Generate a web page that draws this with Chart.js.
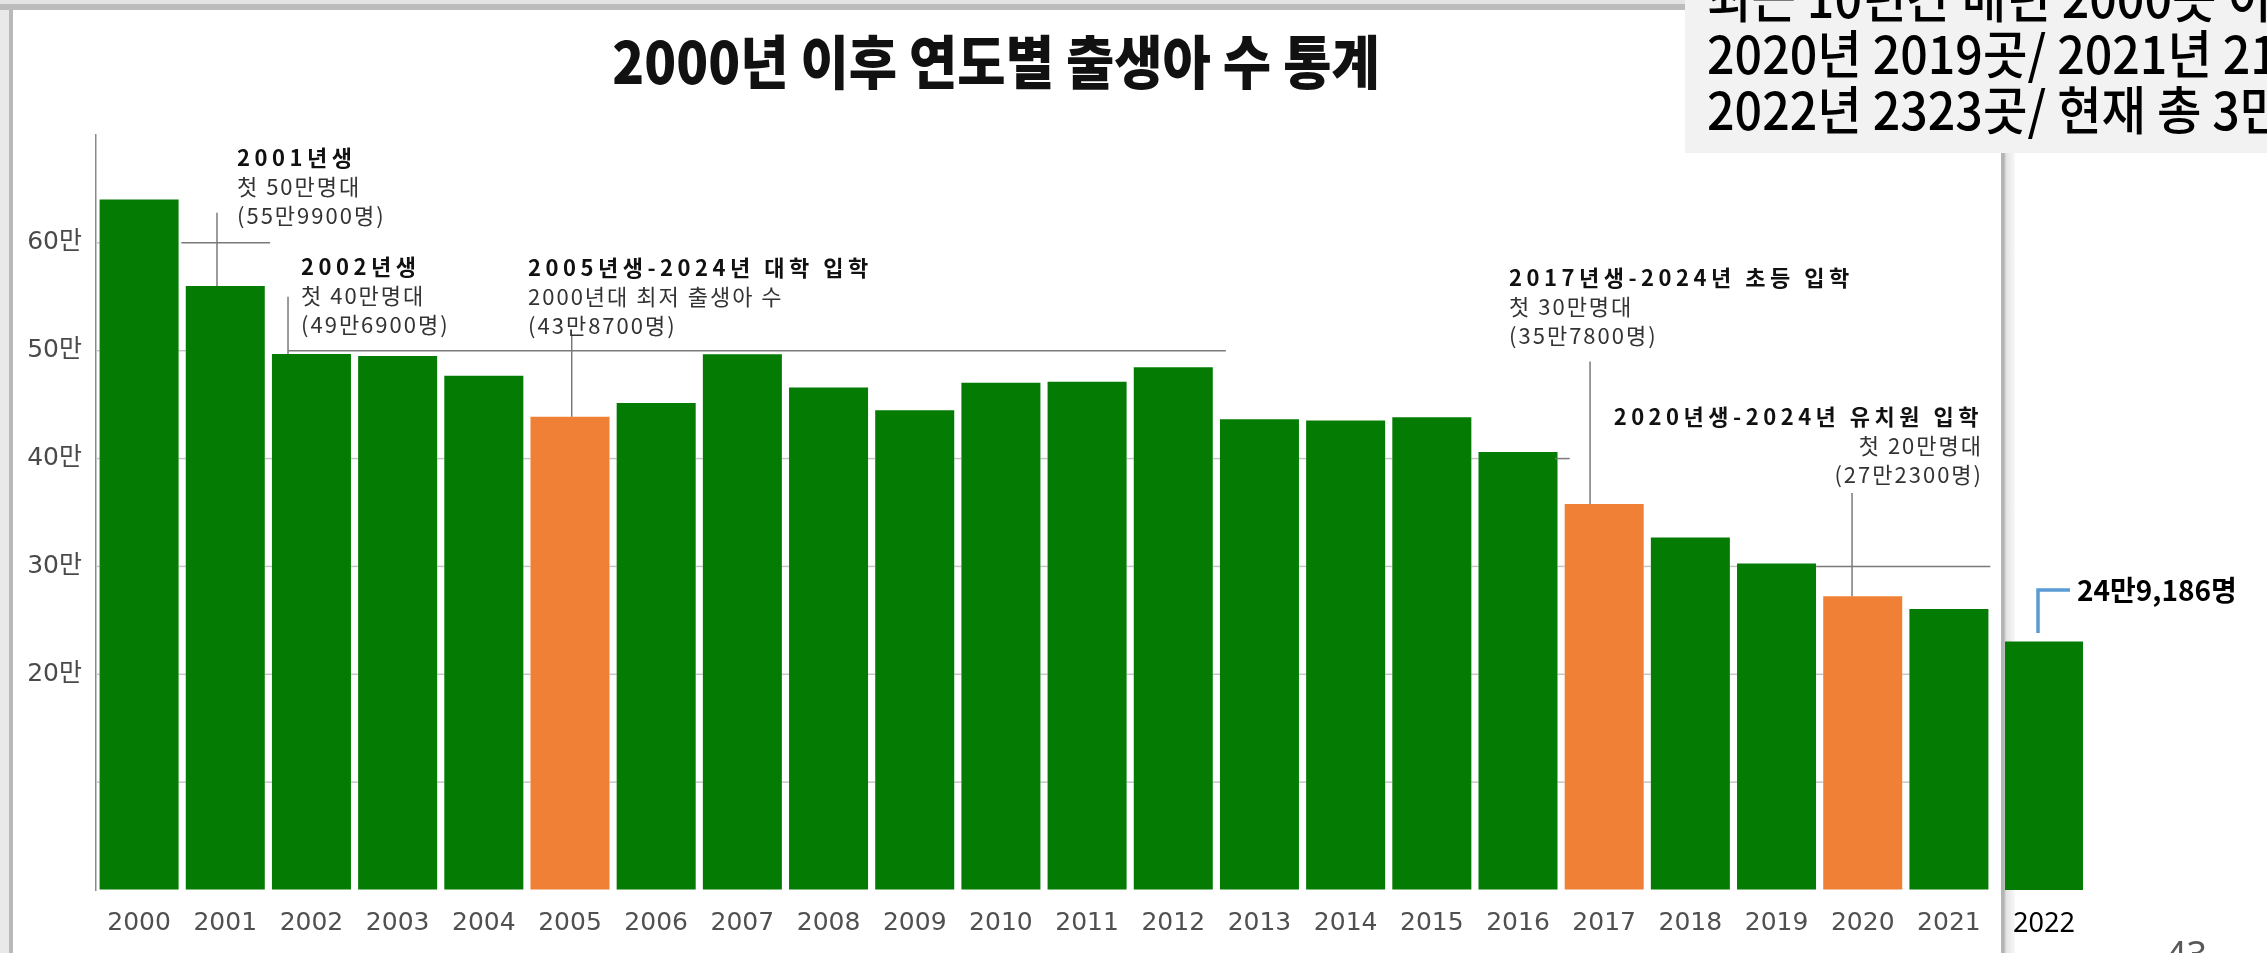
<!DOCTYPE html>
<html>
<head>
<meta charset="utf-8">
<script src="https://cdn.jsdelivr.net/npm/chart.js@4.4.1/dist/chart.umd.min.js"></script>
<style>
html,body{margin:0;padding:0;background:#fff}
body{width:2267px;height:953px;position:relative;overflow:hidden;font-family:"Noto Sans CJK KR",sans-serif}
#leftband{position:absolute;left:0;top:0;width:13px;height:953px;background:linear-gradient(to right,#e9e9e9 0,#e9e9e9 9px,#b9b9b9 9px)}
#topband{position:absolute;left:0;top:0;width:1685px;height:10px;background:linear-gradient(#e4e4e4 0,#e4e4e4 4px,#bcbcbc 4px)}
#sep{position:absolute;left:2001px;top:153px;width:14px;height:800px;background:linear-gradient(to right,#b4b4b4 0,#b4b4b4 3px,#e2e2e2 5px,#f8f8f8 14px)}
#title{position:absolute;left:0;top:30px;width:1992px;text-align:center;font:900 58px/58px "Noto Sans CJK KR";color:#111;transform:scaleX(.905);white-space:nowrap}
#wrap1{position:absolute;left:13px;top:10px;width:1988px;height:943px}
#wrap2{position:absolute;left:2004px;top:10px;width:263px;height:943px}
#note{position:absolute;left:1685px;top:0;width:582px;height:153px;background:#f2f2f2;overflow:hidden}
#note div{position:absolute;left:22px;top:-32px;font:500 52px/56px "Noto Sans CJK KR";color:#000;white-space:nowrap;transform:scaleX(.93);transform-origin:0 0}
#page{position:absolute;left:2166px;top:934px;font:400 36px/40px "Noto Sans";color:#595959}
</style>
</head>
<body>
<div id="leftband"></div>
<div id="topband"></div>
<div id="title">2000년 이후 연도별 출생아 수 통계</div>
<div id="wrap1"><canvas id="births"></canvas></div>
<div id="sep"></div>
<div id="wrap2"><canvas id="births2022"></canvas></div>
<div id="note"><div>최근 10년간 매년 2000곳 이상 폐원<br>2020년 2019곳/ 2021년 2148곳/<br>2022년 2323곳/ 현재 총 3만923곳</div></div>
<div id="page">43</div>
<script>
// data
const years = ['2000','2001','2002','2003','2004','2005','2006','2007','2008','2009','2010',
               '2011','2012','2013','2014','2015','2016','2017','2018','2019','2020','2021'];
const births = [640100,559900,496900,495000,476900,438700,451500,496800,465900,444800,470200,
                471300,484600,436500,435400,438400,406200,357800,326800,302700,272300,260600];
const highlight = ['2005','2017','2020'];
const tickLabels = [200000,300000,400000,500000,600000];

const lastYear = ['2022'];
const lastBirths = [230000];
const lastLabel = '24만9,186명';

// threshold lines (value) and their span in category units
const thresholds = [600000,500000,400000,300000];
const thresholdSpans = [[0.49,1.52],[1.73,12.61],[16.43,16.6],[19.46,21.48]];

// callouts
const notes = [
  {year:'2001',dx:0.136,at:679000,align:'left',lead:-0.096,leadFrom:628000,
   lines:['2001년생','첫 50만명대','(55만9900명)']},
  {year:'2002',dx:-0.121,at:578000,align:'left',lead:-0.272,leadFrom:550000,
   lines:['2002년생','첫 40만명대','(49만6900명)']},
  {year:'2005',dx:-0.487,at:577000,align:'left',lead:0.02,leadFrom:515000,
   lines:['2005년생-2024년 대학 입학','2000년대 최저 출생아 수','(43만8700명)']},
  {year:'2017',dx:-1.104,at:568000,align:'left',lead:-0.164,leadFrom:490000,
   lines:['2017년생-2024년 초등 입학','첫 30만명대','(35만7800명)']},
  {year:'2020',dx:1.396,at:439000,align:'right',lead:-0.124,leadFrom:368000,
   lines:['2020년생-2024년 유치원 입학','첫 20만명대','(27만2300명)']}
];

const green = '#047c04';
const orange = '#f08035';
const barColors = years.map(y => highlight.includes(y) ? orange : green);

// faint grid marks, only visible in the gaps between bars
const gapPlugin = {
  id:'gapGrid',
  beforeDatasetsDraw(chart){
    const {ctx, chartArea, scales:{y}} = chart;
    const bars = chart.getDatasetMeta(0).data;
    ctx.save();
    ctx.strokeStyle = '#c6c6c6';
    ctx.lineWidth = 1.5;
    y.ticks.forEach(t => {
      if (t.value <= 0 || t.value >= 700000) return;
      const py = y.getPixelForValue(t.value);
      for (let k = 0; k < bars.length; k++){
        const lo = Math.min(k ? births[k-1] : Infinity, births[k]);
        if (t.value >= lo) continue;
        const x0 = k ? bars[k-1].x + bars[k-1].width/2 : chartArea.left;
        const x1 = bars[k].x - bars[k].width/2;
        ctx.beginPath();
        ctx.moveTo(x0, py);
        ctx.lineTo(x1, py);
        ctx.stroke();
      }
    });
    ctx.restore();
  }
};

const notePlugin = {
  id:'notes',
  afterDatasetsDraw(chart){
    const {ctx, scales:{x, y}} = chart;
    ctx.save();
    ctx.strokeStyle = '#7a7a7a';
    ctx.lineWidth = 1.5;
    thresholds.forEach((v,k) => {
      const [a,b] = thresholdSpans[k];
      ctx.beginPath();
      ctx.moveTo(x.getPixelForValue(a), y.getPixelForValue(v));
      ctx.lineTo(x.getPixelForValue(b), y.getPixelForValue(v));
      ctx.stroke();
    });
    notes.forEach(n => {
      const i = years.indexOf(n.year);
      const lx = x.getPixelForValue(i + n.lead);
      ctx.beginPath();
      ctx.moveTo(lx, y.getPixelForValue(n.leadFrom));
      ctx.lineTo(lx, y.getPixelForValue(births[i]));
      ctx.stroke();
      const tx = x.getPixelForValue(i + n.dx), ty = y.getPixelForValue(n.at);
      ctx.textAlign = n.align;
      ctx.textBaseline = 'middle';
      n.lines.forEach((s,j) => {
        ctx.font = (j ? '400' : '700') + ' 22px "Noto Sans CJK KR"';
        ctx.letterSpacing = j ? '2px' : '4.5px';
        ctx.fillStyle = j ? '#333' : '#111';
        ctx.fillText(s, tx, ty + j*29);
      });
    });
    ctx.restore();
  }
};

// keep the x axis from pushing the plot area inwards
const fitX = s => { s.height = 63; s.paddingLeft = 0; s.paddingRight = 0; };

new Chart(document.getElementById('births'), {
  type:'bar',
  data:{labels:years, datasets:[{data:births, backgroundColor:barColors,
        barPercentage:0.917, categoryPercentage:1}]},
  options:{
    responsive:true, maintainAspectRatio:false, animation:false,
    layout:{padding:{left:12, right:9, top:125, bottom:0}},
    scales:{
      x:{grid:{display:false}, border:{display:false},
         ticks:{padding:10, color:'#505050', font:{family:'"DejaVu Sans"', size:25}},
         afterFit:fitX},
      y:{
        min:0, max:700000,
        ticks:{stepSize:100000, padding:14, color:'#4a4a4a',
               font:{family:'"DejaVu Sans","Noto Sans CJK KR"', size:25},
               callback:v => tickLabels.includes(v) ? (v/10000)+'만' : ''},
        grid:{drawTicks:false, color:'transparent'},
        border:{display:true, color:'#8a8a8a', width:1.5},
        afterFit:s => { s.width = 71; }
      }
    },
    plugins:{legend:{display:false}, tooltip:{enabled:false}}
  },
  plugins:[gapPlugin, notePlugin]
});

const lastPlugin = {
  id:'lastLabel',
  afterDatasetsDraw(chart){
    const bar = chart.getDatasetMeta(0).data[0];
    const {ctx} = chart;
    const bx = bar.x - 6, knee = bar.y - 52;
    ctx.save();
    ctx.strokeStyle = '#5b9bd5';
    ctx.lineWidth = 3.5;
    ctx.beginPath();
    ctx.moveTo(bx, bar.y - 9);
    ctx.lineTo(bx, knee);
    ctx.lineTo(bar.x + 26, knee);
    ctx.stroke();
    ctx.font = '700 28px "Noto Sans CJK KR"';
    ctx.fillStyle = '#000';
    ctx.textBaseline = 'middle';
    ctx.fillText(lastLabel, bar.x + 33, knee);
    ctx.restore();
  }
};

new Chart(document.getElementById('births2022'), {
  type:'bar',
  data:{labels:lastYear, datasets:[{data:lastBirths, backgroundColor:green,
        barPercentage:1, categoryPercentage:1}]},
  options:{
    responsive:true, maintainAspectRatio:false, animation:false,
    layout:{padding:{left:1, right:184, top:125, bottom:0}},
    scales:{
      x:{grid:{display:false}, border:{display:false},
         ticks:{padding:10, color:'#000', font:{family:'"Noto Sans"', size:27}},
         afterFit:fitX},
      y:{display:false, min:0, max:700000}
    },
    plugins:{legend:{display:false}, tooltip:{enabled:false}}
  },
  plugins:[lastPlugin]
});
</script>
</body>
</html>
